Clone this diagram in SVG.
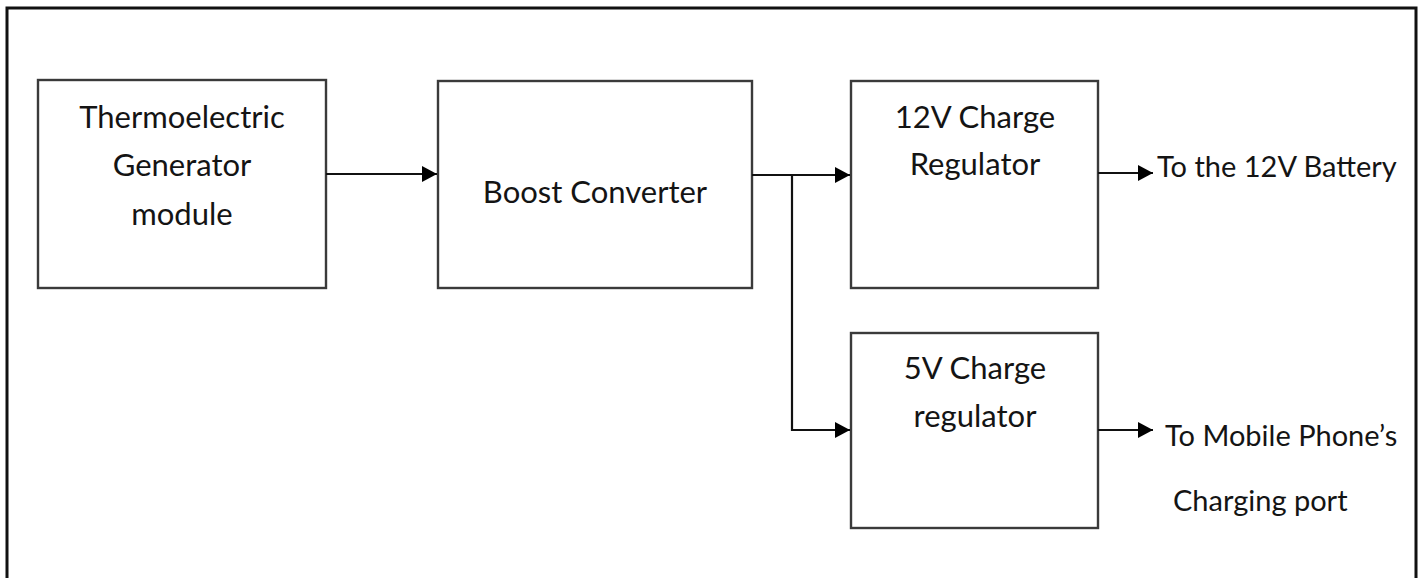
<svg xmlns="http://www.w3.org/2000/svg" width="1423" height="578" viewBox="0 0 1423 578">
<defs>
<style>
.box{fill:#fff;stroke:#3a3a3a;stroke-width:2.4}
.lbl{font-family:Lato,"Open Sans","Liberation Sans",sans-serif;font-size:31px;fill:#141414;text-anchor:middle}
.out{font-family:Lato,"Open Sans","Liberation Sans",sans-serif;font-size:29px;fill:#141414}
.wire{fill:none;stroke:#111;stroke-width:2.2}
</style>
<marker id="ah" viewBox="0 0 15 16" refX="15" refY="8" markerWidth="15" markerHeight="16" markerUnits="userSpaceOnUse" orient="auto">
<path d="M0,0 L15,8 L0,16 Z" fill="#000"/>
</marker>
</defs>
<rect width="1423" height="578" fill="#fff"/>
<path d="M7,590 L7,8 L1416,8 L1416,590" fill="none" stroke="#111" stroke-width="3"/>
<g id="teg">
<rect class="box" x="38" y="80" width="288" height="208"/>
<text class="lbl" x="182" y="128">Thermoelectric</text>
<text class="lbl" x="182" y="176">Generator</text>
<text class="lbl" x="182" y="225">module</text>
</g>
<g id="boost">
<rect class="box" x="438" y="81" width="314" height="207"/>
<text class="lbl" x="595" y="203">Boost Converter</text>
</g>
<g id="reg12">
<rect class="box" x="851" y="81" width="247" height="207"/>
<text class="lbl" x="975" y="128">12V Charge</text>
<text class="lbl" x="975" y="175">Regulator</text>
</g>
<g id="reg5">
<rect class="box" x="851" y="333" width="247" height="195"/>
<text class="lbl" x="975" y="379">5V Charge</text>
<text class="lbl" x="975" y="427">regulator</text>
</g>
<g id="out12">
<text class="out" x="1157" y="177">To the 12V Battery</text>
</g>
<g id="out5">
<text class="out" x="1165" y="446">To Mobile Phone’s</text>
<text class="out" x="1173" y="511">Charging port</text>
</g>
<g id="connectors">
<path class="wire" d="M326,174 L437,174" marker-end="url(#ah)"/>
<path class="wire" d="M752,175 L850,175" marker-end="url(#ah)"/>
<path class="wire" d="M792,175 L792,430 L850,430" marker-end="url(#ah)"/>
<path class="wire" d="M1098,173 L1153,173" marker-end="url(#ah)"/>
<path class="wire" d="M1098,430 L1153,430" marker-end="url(#ah)"/>
</g>
</svg>
